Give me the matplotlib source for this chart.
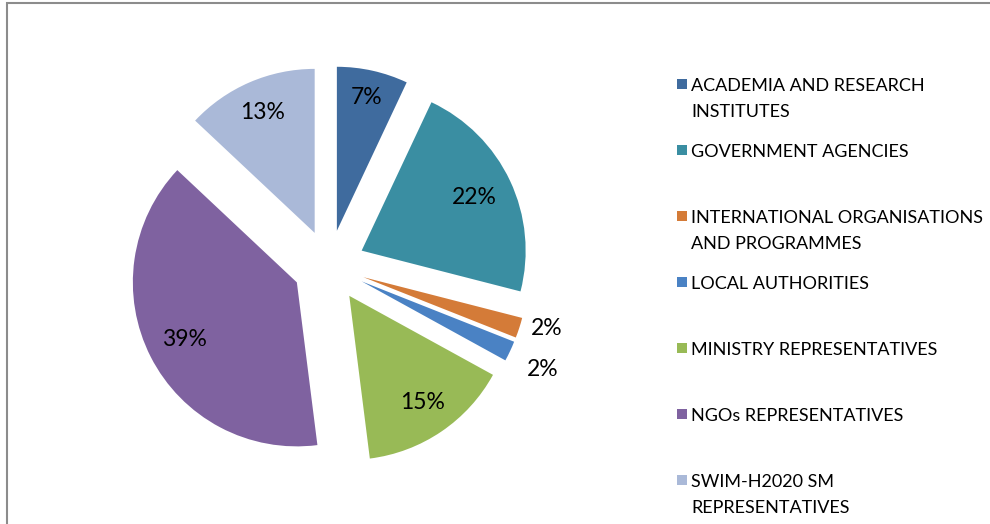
import matplotlib
matplotlib.use("Agg")
import matplotlib.pyplot as plt
import numpy as np
from matplotlib.patches import Rectangle

categories = ["ACADEMIA AND RESEARCH\nINSTITUTES", "GOVERNMENT AGENCIES",
              "INTERNATIONAL ORGANISATIONS\nAND PROGRAMMES", "LOCAL AUTHORITIES",
              "MINISTRY REPRESENTATIVES", "NGOs REPRESENTATIVES",
              "SWIM-H2020 SM\nREPRESENTATIVES"]
values = [7, 22, 2, 2, 15, 39, 13]
pct_labels = ["7%", "22%", "2%", "2%", "15%", "39%", "13%"]
colors = ["#3F6B9E", "#3A8EA2", "#D47B38", "#4A82C4", "#98BA56", "#7F62A0", "#AAB9D8"]
label_dist = [0.83, 0.76, 1.16, 1.23, 0.79, 0.77, 0.80]
label_angle_off = [0, 0, 2.1, -0.7, 0, 0, 0]

plt.rcParams['font.family'] = ['Lato', 'DejaVu Sans']

W, H = 990, 524
fig = plt.figure(figsize=(W / 100, H / 100), dpi=100)
ax = fig.add_axes([0, 0, 1, 1])
R = 164.0
cx, cy = 329.0, 266.0
explode = 0.22
wedges, _ = ax.pie(values, colors=colors, startangle=90, counterclock=False,
                   explode=[explode] * len(values), radius=1, center=(0, 0),
                   wedgeprops=dict(linewidth=0))
ax.set_xlim(-cx / R, (W - cx) / R)
ax.set_ylim(-(H - cy) / R, cy / R)
ax.set_aspect('equal')
ax.axis('off')

for w, lab, d, da in zip(wedges, pct_labels, label_dist, label_angle_off):
    mid = (w.theta1 + w.theta2) / 2
    ang = np.deg2rad(mid)
    ox, oy = w.center
    tx = ox + d * np.cos(ang)
    ty = oy + d * np.sin(ang)
    if da:
        rr = np.hypot(tx, ty)
        a2 = np.deg2rad(mid + da)
        tx, ty = rr * np.cos(a2), rr * np.sin(a2)
    ax.text(tx, ty, lab, ha='center', va='center', fontsize=16.5, color='black')

# frame
fig.add_artist(Rectangle((7 / W, -0.1), 1.2, (H - 3) / H + 0.1, transform=fig.transFigure,
                         fill=False, edgecolor='#8c8c8c', linewidth=1.5))

# legend
y0 = 84
step = 66
for i, (cat, col) in enumerate(zip(categories, colors)):
    y = y0 + i * step
    fig.add_artist(Rectangle((677 / W, 1 - (y + 5) / H), 10 / W, 10 / H,
                             transform=fig.transFigure, facecolor=col, edgecolor='none'))
    fig.text(691 / W, 1 - (y - 6) / H, cat, ha='left', va='top', fontsize=13,
             linespacing=1.75, color='black')

fig.savefig("out.png", dpi=100)
